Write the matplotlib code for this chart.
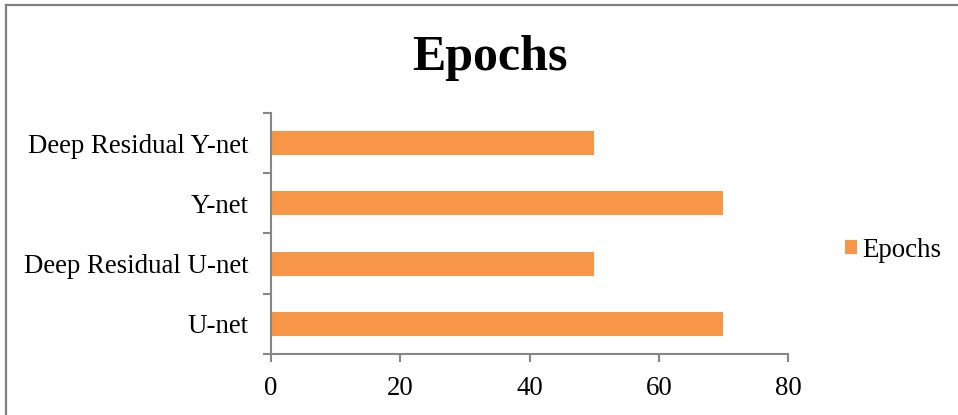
import matplotlib
matplotlib.use("Agg")
import matplotlib.pyplot as plt
from matplotlib.lines import Line2D

categories = ["U-net", "Deep Residual U-net", "Y-net", "Deep Residual Y-net"]
epochs = [70, 50, 70, 50]
x_ticks = [0, 20, 40, 60, 80]
series_name = "Epochs"

plt.rcParams["font.family"] = ["Liberation Serif", "DejaVu Serif"]

fig = plt.figure(figsize=(9.58, 4.15), dpi=100)
ax = fig.add_axes([271 / 958, 1 - 354 / 415, (788 - 271) / 958, (354 - 113) / 415])

bar_color = "#F79646"
axis_color = "#868686"
label_size = 19.4

ax.barh(range(len(categories)), epochs, height=0.4, color=bar_color, label=series_name)

ax.set_xlim(0, 80)
ax.set_ylim(-0.5, len(categories) - 0.5)
ax.set_xticks(x_ticks)
ax.set_xticklabels([str(t) for t in x_ticks])

# category labels centred on bars, tick marks between categories
ax.set_yticks(range(len(categories)))
ax.set_yticklabels(categories)
ax.set_yticks([i - 0.5 for i in range(len(categories) + 1)], minor=True)
ax.tick_params(axis="y", which="major", length=0, pad=16, labelsize=label_size)
ax.tick_params(axis="y", which="minor", length=6, width=1.5, color=axis_color, direction="out")
ax.tick_params(axis="x", which="major", length=6, width=1.5, color=axis_color,
               labelsize=label_size, pad=10)

for side in ("top", "right"):
    ax.spines[side].set_visible(False)
for side in ("left", "bottom"):
    ax.spines[side].set_color(axis_color)
    ax.spines[side].set_linewidth(1.5)

fig.text(490 / 958, 1 - 70 / 415, "Epochs", ha="center", va="baseline",
         fontsize=36, fontweight="bold")

leg = fig.legend(loc="center left", bbox_to_anchor=(845 / 958, 1 - 250 / 415),
                 frameon=False, fontsize=label_size, handlelength=0.45, handleheight=0.45,
                 handletextpad=0.2, borderaxespad=0, borderpad=0)

# outer chart frame: left and top edges
fx = 6 / 958
fy = 1 - 5 / 415
fig.add_artist(Line2D([fx, fx], [0, fy], transform=fig.transFigure,
                      color="#808080", linewidth=1.6))
fig.add_artist(Line2D([fx, 1], [fy, fy], transform=fig.transFigure,
                      color="#808080", linewidth=1.6))

fig.savefig("out.png", dpi=100)
